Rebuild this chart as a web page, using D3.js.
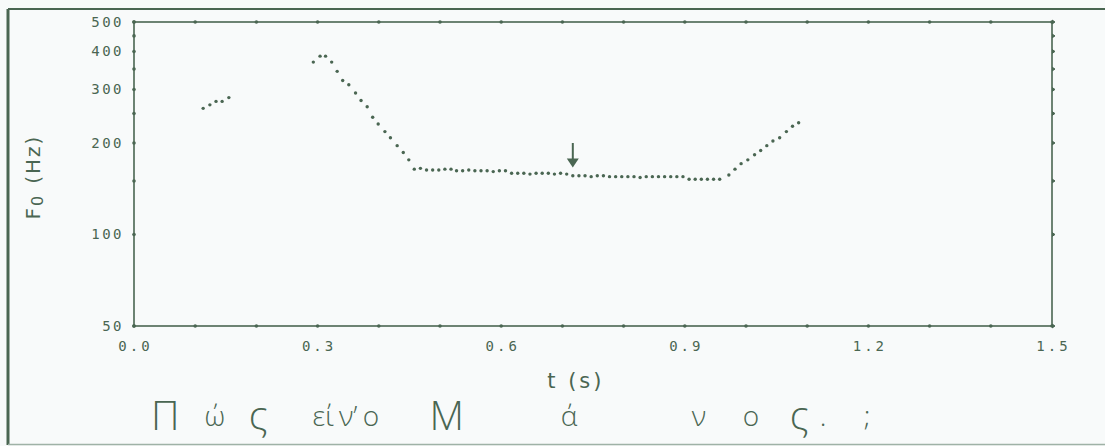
<!DOCTYPE html>
<html>
<head>
<meta charset="utf-8">
<script src="https://cdn.jsdelivr.net/npm/d3@7"></script>
<style>
  body { margin: 0; background: #f8fafa; }
  svg { display: block; }
  .tick-label { font-family: 'DejaVu Sans Mono', monospace; font-size: 14px; fill: #4a6652; }
  .hand { font-family: 'Open Sans', 'Lato', sans-serif; font-weight: 300; fill: #4a6652; }
</style>
</head>
<body>
<svg width="1105" height="446"></svg>
<script>
// **** Data read from the pitch track ****

var seg1Times = [0.113, 0.124, 0.134, 0.144, 0.155];
var seg1F0 = [260, 267, 274, 274, 282];

var seg2Times = [0.293, 0.304, 0.313, 0.323, 0.332, 0.341, 0.351, 0.362, 0.371, 0.381, 0.390, 0.399,
    0.410, 0.419, 0.430, 0.440, 0.449,
    0.458, 0.468, 0.478, 0.488, 0.498, 0.508, 0.518,
    0.527, 0.537, 0.547, 0.557, 0.567, 0.577, 0.587, 0.597, 0.607,
    0.617, 0.627, 0.637, 0.647, 0.657, 0.667, 0.677, 0.687, 0.697, 0.707,
    0.717, 0.727, 0.737, 0.747, 0.757, 0.767,
    0.777, 0.787, 0.797, 0.807, 0.817, 0.827, 0.837, 0.847, 0.857, 0.867, 0.877, 0.887, 0.897,
    0.907, 0.917, 0.927, 0.937, 0.947, 0.957,
    0.972, 0.982, 0.992, 1.003, 1.014, 1.024, 1.034, 1.044, 1.055, 1.066, 1.076, 1.086];
var seg2F0 = [369, 386, 386, 369, 344, 321, 311, 292, 276, 263, 243, 231,
    218, 208, 196, 186, 176,
    164, 165, 163, 163, 163, 164, 164,
    162, 162, 163, 162, 162, 162, 161, 162, 162,
    159, 159, 159, 158, 159, 159, 159, 158, 159, 158,
    156, 156, 156, 155, 156, 156,
    155, 155, 155, 155, 155, 154, 155, 155, 155, 155, 155, 155, 155,
    152, 152, 152, 152, 152, 152,
    157, 164, 171, 176, 183, 189, 196, 203, 208, 218, 227, 233];

var xTicks = [0, 0.1, 0.2, 0.3, 0.4, 0.5, 0.6, 0.7, 0.8, 0.9, 1.0, 1.1, 1.2, 1.3, 1.4, 1.5];
var xLabels = [0, 0.3, 0.6, 0.9, 1.2, 1.5];
var yTicks = [50, 100, 150, 200, 250, 300, 350, 400, 450, 500];
var yLabels = [50, 100, 200, 300, 400, 500];

// arrow marking the accented syllable
var arrowTime = 0.717;
var arrowFrom = 200, arrowTo = 166;

// handwritten transcription under the time axis
var syllables = ['Π', 'ώ', 'ς', 'εί', 'ν’', 'ο', 'Μ', 'ά', 'ν', 'ο', 'ς', '.', ';'];
var syllableTimes = [0.051, 0.132, 0.203, 0.309, 0.350, 0.387, 0.511, 0.711, 0.923, 1.008, 1.087, 1.126, 1.198];
var syllableBig = [true, false, true, false, false, false, true, false, false, false, true, false, false];

var ink = '#4a6652';

// **** Scales ****

var timeScale = d3.scaleLinear().domain([0, 1.5]).range([134, 1052]);
var f0Scale = d3.scaleLog().domain([50, 500]).range([326, 22]);

var svg = d3.select('svg');

// scanned page frame
svg.append('line').attr('x1', 8).attr('y1', 9).attr('x2', 8).attr('y2', 445)
    .style('stroke', ink).style('stroke-width', 3);
svg.append('line').attr('x1', 8).attr('y1', 9).attr('x2', 1105).attr('y2', 9)
    .style('stroke', ink).style('stroke-width', 2);
svg.append('line').attr('x1', 8).attr('y1', 444.5).attr('x2', 1105).attr('y2', 444.5)
    .style('stroke', '#9fb2a6').style('stroke-width', 1.5);

// **** Plot box and ticks ****

var x0 = timeScale(0), x1 = timeScale(1.5);
var yTop = f0Scale(500), yBot = f0Scale(50);

svg.append('rect')
    .attr('x', x0).attr('y', yTop)
    .attr('width', x1 - x0).attr('height', yBot - yTop)
    .style('fill', 'none').style('stroke', ink).style('stroke-width', 1.6);

// ticks on bottom and top
[yBot, yTop].forEach(function(yy) {
    svg.selectAll(null)
        .data(xTicks)
        .enter()
        .append('circle')
        .attr('cx', function(d) { return timeScale(d); })
        .attr('cy', yy)
        .attr('r', 1.8)
        .style('fill', ink);
});

// ticks on the left
svg.selectAll(null)
    .data(yTicks)
    .enter()
    .append('circle')
    .attr('cx', x0)
    .attr('cy', function(d) { return f0Scale(d); })
    .attr('r', 1.8)
    .style('fill', ink);

// ticks on the right, little bumps outward
svg.selectAll(null)
    .data(yTicks)
    .enter()
    .append('path')
    .attr('d', function(d) {
        var y = f0Scale(d);
        return 'M' + x1 + ',' + (y - 2) + 'L' + (x1 + 3) + ',' + y + 'L' + x1 + ',' + (y + 2);
    })
    .style('fill', ink).style('stroke', ink).style('stroke-width', 1);

// tick labels
svg.selectAll(null)
    .data(xLabels)
    .enter()
    .append('text')
    .attr('class', 'tick-label')
    .attr('x', function(d) { return timeScale(d) + 1.5; })
    .attr('y', yBot + 25)
    .attr('text-anchor', 'middle')
    .style('letter-spacing', '3px')
    .text(function(d) { return d.toFixed(1); });

svg.selectAll(null)
    .data(yLabels)
    .enter()
    .append('text')
    .attr('class', 'tick-label')
    .attr('x', x0 - 10)
    .attr('y', function(d) { return f0Scale(d) + 5; })
    .attr('text-anchor', 'end')
    .style('letter-spacing', '2.5px')
    .text(function(d) { return d; });

// **** Axis titles ****

var yTitle = svg.append('text')
    .attr('transform', 'translate(40,' + 177 + ') rotate(-90)')
    .attr('text-anchor', 'middle')
    .style('font-family', "'DejaVu Sans', sans-serif")
    .style('font-size', '20px')
    .style('letter-spacing', '2px')
    .style('fill', ink);
yTitle.append('tspan').text('F');
yTitle.append('tspan').attr('dy', 3).style('font-size', '16px').text('0');
yTitle.append('tspan').attr('dy', -3).attr('dx', 10).text('(Hz)');

svg.append('text')
    .attr('x', timeScale(0.722))
    .attr('y', 388)
    .attr('text-anchor', 'middle')
    .style('font-family', "'DejaVu Sans', sans-serif")
    .style('font-size', '21px')
    .style('letter-spacing', '3px')
    .style('fill', ink)
    .text('t (s)');

// **** F0 dots ****

[[seg1Times, seg1F0], [seg2Times, seg2F0]].forEach(function(seg) {
    svg.selectAll(null)
        .data(d3.range(seg[0].length))
        .enter()
        .append('circle')
        .attr('cx', function(i) { return timeScale(seg[0][i]); })
        .attr('cy', function(i) { return f0Scale(seg[1][i]); })
        .attr('r', 1.7)
        .style('fill', ink);
});

// arrow
var ax = timeScale(arrowTime);
svg.append('line')
    .attr('x1', ax).attr('y1', f0Scale(arrowFrom))
    .attr('x2', ax).attr('y2', f0Scale(arrowTo) - 6)
    .style('stroke', ink).style('stroke-width', 2);
svg.append('path')
    .attr('d', 'M' + (ax - 6) + ',' + (f0Scale(arrowTo) - 9) + 'L' + (ax + 6) + ',' + (f0Scale(arrowTo) - 9) +
        'L' + ax + ',' + f0Scale(arrowTo) + 'Z')
    .style('fill', ink);

// **** Handwritten sentence ****

svg.selectAll(null)
    .data(d3.range(syllables.length))
    .enter()
    .append('text')
    .attr('class', 'hand')
    .attr('x', function(i) { return timeScale(syllableTimes[i]); })
    .attr('y', function(i) { return syllableBig[i] ? 430 : 426; })
    .attr('text-anchor', 'middle')
    .style('font-size', function(i) { return syllableBig[i] ? '40px' : '28px'; })
    .text(function(i) { return syllables[i]; });
</script>
</body>
</html>
